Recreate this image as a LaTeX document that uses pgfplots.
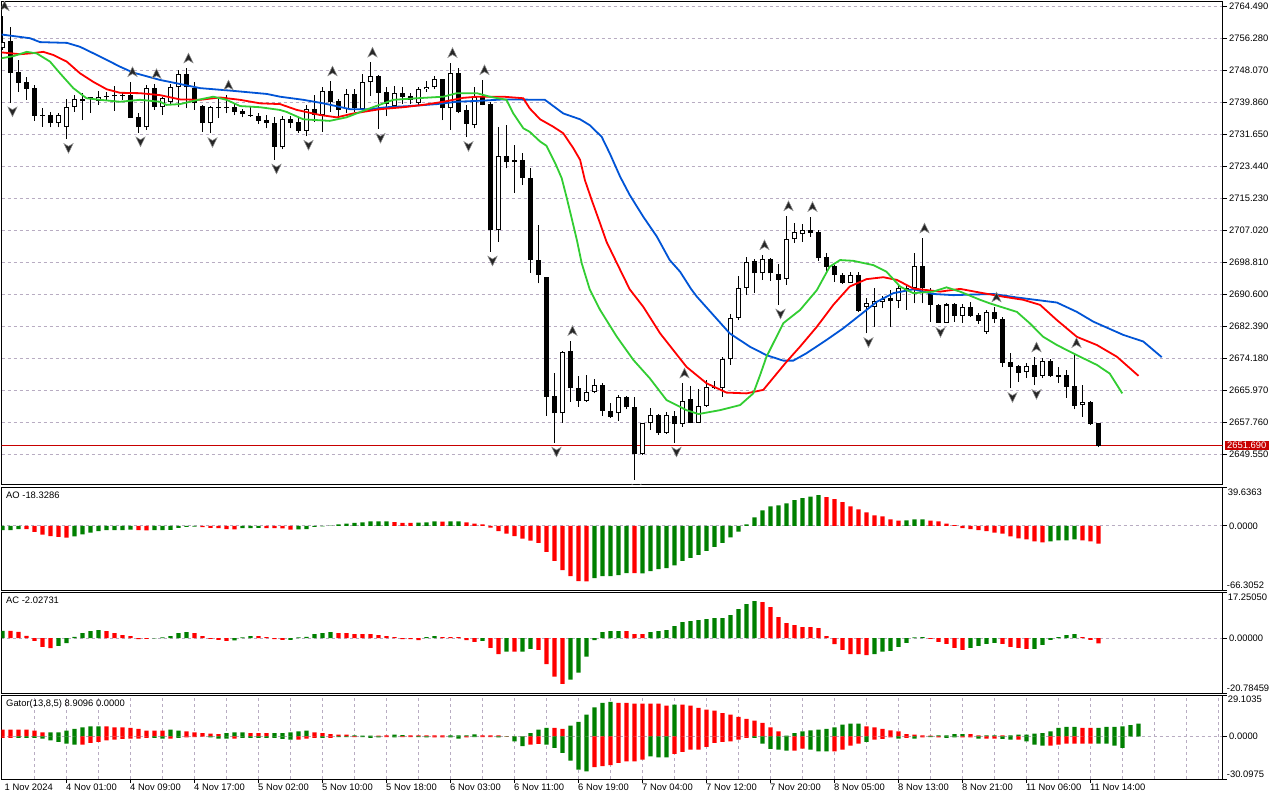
\documentclass[border=0pt]{standalone}
\usepackage{pgfplots}
\pgfplotsset{compat=1.18}
\usepackage{pgfplotstable}
\usepackage{fontspec}
\setmainfont{Liberation Sans}

\definecolor{mtblue}{RGB}{0,84,214}
\definecolor{mtred}{RGB}{255,0,0}
\definecolor{mtlime}{RGB}{50,205,50}
\definecolor{hgreen}{RGB}{0,128,0}
\definecolor{hred}{RGB}{255,0,0}
\definecolor{gridc}{RGB}{184,172,194}
\definecolor{pricered}{RGB}{200,0,0}

\pgfplotstableread{
i O H L C
0 2753.8 2761.9 2753.2 2755.3
1 2755.5 2759.0 2739.7 2747.4
2 2747.6 2750.6 2742.5 2744.8
3 2745.0 2746.2 2740.4 2743.2
4 2743.4 2744.2 2735.0 2736.3
5 2736.6 2738.2 2733.5 2736.3
6 2736.5 2737.2 2733.3 2734.4
7 2734.4 2737.1 2733.3 2736.5
8 2733.5 2740.5 2730.3 2738.6
9 2738.5 2741.6 2737.3 2740.5
10 2740.6 2742.1 2735.2 2740.0
11 2741.0 2741.1 2737.1 2740.7
12 2740.1 2742.7 2739.1 2741.0
13 2741.4 2742.5 2740.4 2741.0
14 2741.7 2743.9 2737.6 2741.3
15 2741.7 2742.1 2740.4 2741.4
16 2741.6 2745.0 2735.7 2735.8
17 2736.1 2736.9 2732.0 2733.3
18 2733.3 2744.2 2732.7 2743.4
19 2743.4 2744.5 2737.8 2738.6
20 2738.6 2741.2 2736.5 2740.8
21 2739.8 2744.4 2739.2 2743.6
22 2743.6 2748.0 2738.6 2747.0
23 2747.0 2748.5 2738.2 2743.6
24 2743.4 2745.0 2737.8 2739.5
25 2738.8 2739.1 2732.2 2734.4
26 2734.4 2738.7 2731.8 2738.6
27 2738.6 2741.1 2735.7 2738.2
28 2738.6 2741.6 2736.9 2738.2
29 2738.6 2739.5 2736.5 2737.3
30 2737.5 2738.0 2735.9 2736.7
31 2736.6 2738.6 2736.1 2736.3
32 2736.3 2736.9 2734.2 2735.0
33 2735.2 2736.5 2733.1 2734.4
34 2734.5 2736.1 2725.0 2728.4
35 2728.2 2736.2 2727.7 2735.4
36 2735.4 2736.2 2733.1 2734.5
37 2734.8 2735.7 2732.0 2732.5
38 2732.5 2739.1 2731.1 2738.0
39 2738.0 2741.6 2734.8 2736.5
40 2736.5 2743.8 2732.2 2742.7
41 2742.7 2745.2 2737.3 2739.9
42 2740.1 2740.5 2735.9 2737.8
43 2738.0 2743.1 2736.9 2741.8
44 2741.8 2743.1 2737.3 2738.2
45 2738.0 2747.0 2737.8 2744.9
46 2744.9 2750.0 2741.5 2746.5
47 2746.5 2746.8 2732.9 2742.2
48 2742.4 2743.6 2736.2 2739.3
49 2738.8 2743.9 2738.2 2742.1
50 2742.1 2743.6 2739.3 2741.2
51 2741.4 2742.2 2739.3 2740.4
52 2739.7 2743.8 2739.1 2743.1
53 2743.1 2745.3 2742.5 2743.8
54 2743.6 2746.5 2743.1 2745.7
55 2745.7 2745.8 2735.2 2738.2
56 2738.2 2749.9 2732.7 2747.2
57 2747.2 2748.5 2736.9 2737.3
58 2737.8 2739.1 2730.8 2734.2
59 2733.9 2743.8 2733.1 2741.2
60 2741.2 2745.5 2739.0 2739.1
61 2739.3 2739.9 2701.4 2707.0
62 2707.0 2733.5 2704.0 2726.0
63 2726.0 2733.9 2722.8 2724.5
64 2725.0 2728.8 2716.6 2724.5
65 2725.0 2726.8 2718.5 2720.3
66 2720.3 2722.8 2696.1 2699.3
67 2699.3 2708.3 2693.3 2695.5
68 2694.9 2695.0 2659.3 2664.2
69 2664.4 2670.4 2652.4 2660.0
70 2660.0 2676.0 2657.6 2675.8
71 2676.0 2678.6 2663.0 2666.4
72 2666.4 2669.6 2661.7 2663.2
73 2663.2 2669.8 2663.0 2665.5
74 2665.5 2668.7 2665.1 2667.2
75 2667.2 2667.8 2659.3 2660.7
76 2660.7 2662.6 2658.9 2659.0
77 2660.0 2664.7 2658.1 2664.1
78 2664.2 2664.4 2661.0 2661.5
79 2661.5 2664.1 2642.9 2649.5
80 2649.5 2657.6 2649.4 2657.4
81 2657.4 2661.3 2655.7 2659.5
82 2659.5 2659.8 2654.4 2654.9
83 2654.9 2660.4 2654.8 2659.5
84 2659.3 2660.7 2652.4 2657.2
85 2657.2 2667.7 2656.6 2663.2
86 2663.6 2667.0 2657.4 2657.6
87 2657.6 2666.1 2657.5 2661.9
88 2661.9 2668.5 2661.7 2666.7
89 2666.4 2668.4 2666.1 2666.7
90 2666.4 2674.4 2664.2 2673.8
91 2673.8 2685.4 2672.4 2684.5
92 2684.5 2695.2 2683.9 2692.1
93 2692.1 2700.2 2690.3 2698.9
94 2699.1 2699.5 2690.8 2695.9
95 2695.9 2700.6 2694.2 2699.6
96 2699.6 2699.8 2694.0 2695.9
97 2695.7 2698.3 2687.8 2694.2
98 2694.4 2710.6 2692.9 2704.6
99 2704.6 2708.7 2703.7 2706.4
100 2706.0 2708.5 2704.0 2706.9
101 2707.0 2710.4 2705.3 2706.3
102 2706.4 2707.0 2699.1 2699.7
103 2700.0 2701.2 2696.3 2697.6
104 2697.8 2698.0 2693.7 2695.5
105 2695.5 2696.1 2693.2 2693.5
106 2693.5 2696.3 2693.3 2695.5
107 2695.5 2696.2 2686.0 2686.3
108 2687.3 2689.6 2680.5 2688.3
109 2687.3 2692.1 2682.2 2688.8
110 2688.5 2690.1 2686.9 2689.2
111 2689.6 2691.6 2682.0 2688.8
112 2688.8 2692.9 2686.9 2692.1
113 2691.4 2692.9 2686.5 2692.1
114 2692.1 2701.0 2688.2 2697.8
115 2697.8 2704.9 2688.2 2692.1
116 2690.8 2692.1 2683.5 2687.8
117 2687.8 2688.0 2683.1 2683.2
118 2683.2 2688.2 2683.1 2687.9
119 2687.9 2688.4 2683.5 2684.9
120 2685.0 2687.9 2683.2 2687.2
121 2687.2 2688.6 2684.8 2685.0
122 2685.2 2685.8 2682.9 2683.7
123 2680.9 2686.5 2680.3 2685.9
124 2685.9 2687.2 2683.1 2684.1
125 2684.1 2684.8 2671.9 2673.0
126 2673.1 2675.5 2666.4 2671.9
127 2672.1 2672.4 2668.1 2670.4
128 2670.5 2672.8 2669.0 2672.2
129 2672.4 2674.4 2667.2 2669.4
130 2669.6 2674.1 2669.0 2673.5
131 2673.5 2673.8 2669.4 2669.6
132 2669.8 2671.8 2667.7 2669.4
133 2669.8 2671.1 2664.0 2666.8
134 2667.0 2675.5 2661.0 2661.9
135 2662.1 2667.2 2659.1 2662.8
136 2662.8 2663.2 2657.0 2657.2
137 2657.6 2657.6 2651.3 2651.69
}\candles

\pgfplotstableread{
i p
-0.31 2757.2
3.44 2756.2
4.69 2755.2
8.06 2755.0
9.69 2754.0
12.19 2751.5
14.69 2748.9
16.31 2747.4
19.69 2745.5
24.69 2743.4
28.81 2742.7
33.06 2741.9
34.69 2741.2
37.6 2740.4
40.1 2739.5
43.44 2738.0
45.94 2738.0
48.03 2738.5
50.94 2738.8
54.28 2739.3
56.78 2739.9
60.1 2740.2
62.6 2740.5
67.8 2740.4
70.1 2736.9
72.2 2735.4
73.4 2733.9
74.9 2730.9
75.9 2726.7
77.2 2720.7
78.4 2716.0
80.1 2710.4
81.8 2705.3
83.4 2699.3
84.7 2696.3
86.1 2691.8
86.8 2689.9
88.85 2685.2
90.9 2680.5
93.4 2677.1
95.5 2674.9
97.6 2673.5
98.85 2673.5
100.5 2675.4
103.0 2678.8
105.1 2681.8
107.2 2685.2
109.3 2688.6
111.35 2690.8
113.85 2691.8
116.35 2690.6
118.85 2690.3
123.85 2690.6
126.8 2689.7
131.8 2688.4
134.3 2686.0
136.35 2683.5
140.1 2680.1
142.6 2678.4
144.9 2674.4
}\jaw

\pgfplotstableread{
i p
-0.31 2752.6
2.19 2752.1
3.44 2752.3
5.1 2752.7
6.35 2751.9
8.03 2750.2
9.69 2747.2
11.35 2745.0
13.03 2743.1
14.69 2742.2
17.19 2742.1
19.69 2741.6
22.19 2740.5
24.69 2740.4
27.19 2741.0
29.69 2740.4
32.19 2739.5
34.69 2739.3
36.8 2737.8
39.7 2736.5
41.8 2735.9
43.85 2736.9
47.2 2738.0
50.1 2738.5
52.6 2739.1
55.1 2739.9
57.6 2740.9
59.3 2741.2
62.6 2741.2
65.1 2740.8
65.9 2738.2
67.2 2735.4
68.85 2733.5
70.1 2731.8
71.35 2728.0
72.2 2725.0
72.8 2719.8
73.65 2714.7
74.7 2708.7
75.5 2704.0
76.8 2698.5
78.4 2691.8
80.1 2687.3
82.2 2680.5
83.85 2676.2
85.5 2671.9
88.0 2667.7
90.5 2665.3
93.0 2665.1
95.1 2666.0
98.0 2673.2
99.7 2677.1
101.8 2682.2
103.85 2687.8
105.9 2692.5
108.0 2694.4
110.1 2694.9
111.8 2694.2
113.85 2692.0
115.5 2691.6
117.2 2691.2
119.7 2691.9
122.6 2690.8
125.1 2689.9
127.6 2689.1
129.7 2687.8
131.8 2683.9
134.3 2679.6
136.8 2677.5
139.3 2674.5
142.0 2669.6
}\teeth

\pgfplotstableread{
i p
-0.31 2751.0
1.35 2751.6
3.03 2752.7
4.28 2752.3
5.94 2750.2
7.19 2747.2
8.85 2743.4
10.5 2740.8
12.19 2740.4
14.69 2739.9
17.19 2740.4
19.69 2739.9
20.5 2739.1
22.19 2739.3
24.69 2740.5
26.35 2741.2
28.0 2740.4
29.69 2738.8
32.19 2738.5
34.69 2737.8
35.5 2737.3
37.6 2735.4
40.9 2735.0
43.0 2735.9
45.9 2738.2
48.85 2740.4
51.8 2740.8
55.1 2741.2
56.8 2742.1
59.3 2742.1
60.9 2741.2
63.0 2740.4
63.85 2736.9
65.1 2733.1
65.9 2732.2
67.2 2729.7
68.0 2728.6
69.1 2724.1
69.9 2720.3
70.5 2715.5
71.15 2710.0
71.8 2704.4
72.4 2698.5
73.4 2691.8
74.7 2686.5
76.8 2679.6
78.85 2673.7
80.9 2669.0
83.0 2663.4
85.5 2660.8
87.0 2659.8
89.7 2660.8
92.2 2662.1
93.85 2665.1
94.7 2669.8
95.5 2674.5
97.6 2683.1
99.7 2686.5
101.8 2691.6
103.4 2697.6
104.7 2699.3
106.35 2699.1
108.85 2698.0
110.5 2696.3
112.2 2692.5
113.85 2690.8
116.35 2691.2
118.0 2692.3
119.7 2691.2
122.2 2689.1
123.4 2688.2
126.8 2686.0
128.4 2683.1
130.1 2679.6
131.8 2677.5
134.3 2674.9
136.8 2672.4
138.4 2670.2
139.97 2665.1
}\lips

\pgfplotstableread{
i H
0 2761.9
16 2745.0
19 2744.5
23 2748.5
28 2741.6
41 2745.2
46 2750.0
56 2749.9
60 2745.5
71 2678.6
85 2667.7
95 2700.6
98 2710.6
101 2710.4
115 2704.9
124 2687.2
129 2674.4
134 2675.5
}\fup

\pgfplotstableread{
i L
1 2739.7
8 2730.3
17 2732.0
26 2731.8
34 2725.0
38 2731.1
47 2732.9
58 2730.8
61 2701.4
69 2652.4
79 2642.9
84 2652.4
97 2687.8
108 2680.5
117 2683.1
126 2666.4
129 2667.2
}\fdn

\pgfplotstableread{
i v g
0 -4.5 1
1 -4.5 1
2 -3.5 1
3 -3.5 0
4 -6.3 0
5 -9.1 0
6 -10.5 0
7 -11.5 0
8 -12.2 0
9 -10.8 1
10 -8.7 1
11 -7.0 1
12 -5.5 1
13 -4.5 1
14 -4.4 1
15 -4.3 1
16 -3.9 1
17 -4.5 0
18 -4.6 0
19 -4.4 1
20 -4.3 1
21 -4.2 1
22 -2.1 1
23 -1.0 1
24 -0.8 1
25 -1.4 0
26 -2.1 0
27 -2.4 0
28 -3.5 0
29 -3.6 0
30 -2.4 1
31 -2.3 1
32 -2.2 1
33 -2.3 0
34 -2.4 0
35 -2.6 0
36 -3.9 0
37 -3.6 1
38 -3.5 1
39 -1.0 1
40 -0.5 1
41 0.2 1
42 1.4 1
43 2.4 1
44 3.1 1
45 3.5 1
46 4.5 1
47 4.6 1
48 4.7 1
49 3.9 0
50 3.1 0
51 3.0 0
52 3.2 1
53 3.5 1
54 4.5 1
55 4.4 0
56 4.5 1
57 4.6 1
58 3.5 0
59 2.4 0
60 1.4 0
61 -1.8 0
62 -5.5 0
63 -8.1 0
64 -10.5 0
65 -13.3 0
66 -15.4 0
67 -17.5 0
68 -26.9 0
69 -36.3 0
70 -45.7 0
71 -52.0 0
72 -57.2 0
73 -57.3 0
74 -54.1 1
75 -52.0 1
76 -51.9 1
77 -50.9 1
78 -48.8 1
79 -48.9 0
80 -49.2 1
81 -46.8 1
82 -44.7 1
83 -43.6 1
84 -40.8 1
85 -36.3 1
86 -33.2 1
87 -30.0 1
88 -25.8 1
89 -21.7 1
90 -17.5 1
91 -11.8 1
92 -6.0 1
93 1.4 1
94 8.7 1
95 16.0 1
96 20.2 1
97 21.2 1
98 23.3 1
99 26.5 1
100 28.6 1
101 30.3 1
102 31.7 1
103 29.6 0
104 27.5 0
105 24.4 0
106 20.2 0
107 17.0 0
108 13.9 0
109 10.8 0
110 9.7 0
111 6.6 0
112 5.5 0
113 5.6 1
114 6.6 1
115 6.7 1
116 5.5 0
117 4.5 0
118 2.4 0
119 0.7 0
120 -2.4 0
121 -3.5 0
122 -4.5 0
123 -5.5 0
124 -7.0 0
125 -8.1 0
126 -10.8 0
127 -12.9 0
128 -13.9 0
129 -16.0 0
130 -17.1 0
131 -16.0 1
132 -15.0 1
133 -14.9 1
134 -13.9 1
135 -15.0 0
136 -16.0 0
137 -18.3286 0
}\aodata

\pgfplotstableread{
i v g
0 2.76 1
1 2.76 0
2 2.38 0
3 0.87 0
4 -1.02 0
5 -3.29 0
6 -3.78 0
7 -2.91 1
8 -1.89 1
9 0.49 1
10 1.89 1
11 2.64 1
12 3.02 1
13 2.64 0
14 1.89 0
15 1.13 0
16 0.76 0
17 -0.38 0
18 -0.26 0
19 -0.11 1
20 0.26 1
21 0.76 1
22 1.89 1
23 2.27 1
24 1.89 0
25 0.76 0
26 -0.26 0
27 -0.64 0
28 -1.02 0
29 -0.87 1
30 0.26 1
31 0.76 1
32 0.76 0
33 0.38 0
34 -0.38 0
35 -0.64 0
36 -0.64 1
37 0.26 1
38 0.49 1
39 1.51 1
40 1.89 1
41 2.27 1
42 1.89 0
43 1.89 0
44 1.51 0
45 1.51 0
46 1.51 0
47 1.13 0
48 0.76 0
49 0.38 0
50 -0.38 0
51 -0.38 0
52 -0.76 0
53 0.38 1
54 0.76 1
55 0.38 0
56 0.38 0
57 0.38 0
58 -0.76 0
59 -1.40 0
60 -1.02 1
61 -3.66 0
62 -6.04 0
63 -5.17 1
64 -5.17 0
65 -5.17 1
66 -4.04 1
67 -4.42 0
68 -9.82 0
69 -14.62 0
70 -17.37 0
71 -15.75 1
72 -13.11 1
73 -7.06 1
74 -0.76 1
75 2.27 1
76 2.64 1
77 2.64 1
78 2.64 0
79 1.51 0
80 1.51 0
81 2.27 1
82 2.64 1
83 3.02 1
84 4.53 1
85 6.04 1
86 6.42 1
87 6.80 1
88 7.18 1
89 7.55 1
90 7.55 1
91 8.69 1
92 10.95 1
93 12.84 1
94 13.97 1
95 13.60 0
96 11.71 0
97 7.93 0
98 5.67 0
99 4.91 0
100 4.15 0
101 4.15 0
102 3.78 0
103 0.76 0
104 -2.27 0
105 -4.42 0
106 -6.04 0
107 -6.04 0
108 -6.42 0
109 -6.04 1
110 -5.17 1
111 -4.80 1
112 -3.29 1
113 -1.78 1
114 0.26 1
115 0.38 1
116 -0.26 0
117 -1.40 0
118 -2.15 0
119 -3.66 0
120 -4.42 0
121 -3.66 1
122 -2.91 1
123 -2.15 1
124 -1.78 1
125 -2.15 0
126 -3.29 0
127 -3.66 0
128 -4.04 0
129 -4.04 1
130 -2.53 1
131 -0.64 1
132 0.38 1
133 1.13 1
134 1.51 1
135 0.38 0
136 -0.64 0
137 -2.02731 0
}\acdata

\pgfplotstableread{
i up uc dn dc
0 4.7 0 -1.2 0
1 4.7 0 -1.2 0
2 4.7 0 -1.2 1
3 4.7 0 -1.2 1
4 4.0 0 -1.2 1
5 2.8 0 -1.6 1
6 2.8 1 -2.8 1
7 2.8 1 -4.0 1
8 4.0 1 -5.2 1
9 5.2 1 -5.9 1
10 6.3 1 -5.9 0
11 7.0 1 -4.7 0
12 7.0 1 -4.0 0
13 7.0 0 -2.8 0
14 6.3 0 -2.3 0
15 6.3 0 -1.9 0
16 5.9 0 -1.6 0
17 5.2 0 -1.6 0
18 4.0 0 -1.2 0
19 4.0 0 -1.2 1
20 4.0 0 -1.6 1
21 4.7 1 -1.6 0
22 4.0 1 -1.2 1
23 3.5 0 -0.7 0
24 2.8 0 -0.5 0
25 2.3 0 -0.2 0
26 1.9 0 -0.7 1
27 1.6 0 -1.6 1
28 2.3 1 -1.6 1
29 2.8 1 -1.6 0
30 2.8 1 -1.2 1
31 2.3 0 -1.2 1
32 2.3 0 -1.2 1
33 2.3 0 -1.2 1
34 2.3 1 -1.2 1
35 2.3 1 -1.9 1
36 2.8 1 -2.3 1
37 3.5 1 -2.3 0
38 4.0 1 -1.6 0
39 2.8 0 -1.2 0
40 2.3 0 -1.2 1
41 1.6 0 -1.2 0
42 1.2 0 -0.5 1
43 1.2 0 -0.5 1
44 0.7 1 -0.5 0
45 0.5 1 -0.5 1
46 0.5 1 -1.2 1
47 0.5 0 -0.7 1
48 0.7 0 -0.5 0
49 1.2 1 -0.7 1
50 0.9 1 -0.5 0
51 0.7 0 -0.5 0
52 0.7 0 -0.5 1
53 0.7 0 -0.7 1
54 0.7 0 -0.7 0
55 0.7 0 -0.7 0
56 0.7 1 -0.7 1
57 0.7 1 -1.6 1
58 0.7 1 -0.7 0
59 1.4 1 -0.5 1
60 0.7 0 -0.5 0
61 0.7 0 -0.5 0
62 0.7 0 -0.7 1
63 0.2 0 -0.2 1
64 0.0 0 -3.5 1
65 0.0 0 -7.0 1
66 2.3 1 -5.9 0
67 4.7 1 -5.4 0
68 5.9 1 -5.9 1
69 5.9 0 -8.2 1
70 5.2 0 -11.7 1
71 7.5 1 -17.1 1
72 10.1 1 -23.5 1
73 15.3 1 -24.7 1
74 20.4 1 -21.8 0
75 23.5 1 -21.1 0
76 24.2 1 -20.4 0
77 23.5 0 -18.8 0
78 23.5 0 -17.6 0
79 23.0 0 -17.6 0
80 23.0 0 -16.4 0
81 23.0 0 -14.1 1
82 23.0 0 -14.8 1
83 21.6 0 -14.8 1
84 22.3 1 -12.4 0
85 22.3 0 -11.0 0
86 21.6 0 -9.4 0
87 20.0 0 -9.4 0
88 18.8 0 -7.5 0
89 18.1 0 -4.7 0
90 16.4 0 -4.0 0
91 15.3 0 -3.5 0
92 13.6 0 -2.3 0
93 12.2 0 -1.2 0
94 11.0 0 -1.2 1
95 9.4 0 -5.2 1
96 6.3 0 -8.9 1
97 3.5 0 -9.4 1
98 0.5 1 -10.1 1
99 2.3 1 -10.1 0
100 3.5 1 -8.7 0
101 4.2 1 -9.4 1
102 4.7 1 -10.6 1
103 5.2 1 -10.6 1
104 6.3 1 -10.6 0
105 8.2 1 -9.4 0
106 8.9 1 -6.6 0
107 8.9 1 -5.2 0
108 7.0 0 -4.0 1
109 6.3 0 -2.3 0
110 5.2 0 -1.9 0
111 4.2 0 -0.7 0
112 3.5 0 -1.6 1
113 1.6 0 -1.2 0
114 1.2 0 -1.6 1
115 0.7 0 -0.7 0
116 0.5 0 -0.5 1
117 0.7 1 -0.7 0
118 0.7 1 -1.2 1
119 1.6 1 -0.7 1
120 1.6 1 -0.7 0
121 1.6 0 -0.7 0
122 0.7 0 -1.6 1
123 0.7 1 -1.6 0
124 0.7 1 -1.6 0
125 0.7 0 -1.9 1
126 0.7 1 -2.3 1
127 1.2 1 -2.3 0
128 1.2 1 -3.5 1
129 1.9 1 -5.9 1
130 2.3 1 -6.6 1
131 3.5 1 -6.6 0
132 5.9 1 -5.9 0
133 6.6 1 -5.2 0
134 6.6 1 -5.2 0
135 5.9 0 -5.2 0
136 5.9 0 -5.2 0
137 5.9 1 -5.2 1
138 6.6 1 -5.2 1
139 6.6 1 -6.6 1
140 7.0 1 -8.2 1
141 7.8 1 0 1
142 8.9096 1 0 1
}\gator

\pgfdeclareplotmark{fractup}{%
  \pgfpathmoveto{\pgfqpoint{0pt}{5pt}}%
  \pgfpathlineto{\pgfqpoint{4.6pt}{-4.6pt}}%
  \pgfpathlineto{\pgfqpoint{0pt}{-1.8pt}}%
  \pgfpathlineto{\pgfqpoint{-4.6pt}{-4.6pt}}%
  \pgfpathclose\pgfusepathqfillstroke}
\pgfdeclareplotmark{fractdn}{%
  \pgfpathmoveto{\pgfqpoint{0pt}{-5pt}}%
  \pgfpathlineto{\pgfqpoint{4.6pt}{4.6pt}}%
  \pgfpathlineto{\pgfqpoint{0pt}{1.8pt}}%
  \pgfpathlineto{\pgfqpoint{-4.6pt}{4.6pt}}%
  \pgfpathclose\pgfusepathqfillstroke}

\newcommand{\lblfont}{\fontsize{9.4}{10}\selectfont}

\pgfplotsset{
  mt/.style={
    scale only axis, width=1221.2pt, xmin=-0.125, xmax=152.525,
    axis line style={line width=0.8pt},
    xtick=\empty,
    minor xtick={4,8,...,152}, minor tick length=0pt, xminorgrids,
    minor grid style={gridc, dash pattern=on 3pt off 3pt, line width=0.7pt},
    major grid style={gridc, dash pattern=on 3pt off 3pt, line width=0.7pt},
    ytick pos=right, yticklabel pos=right, tick align=outside,
    major tick length=4pt,
    tick style={black, line width=0.7pt},
    tick label style={font=\lblfont},
    yticklabel style={anchor=west, xshift=-1pt},
    /pgf/number format/assume math mode=true,
    clip marker paths=true,
  },
  hbar/.style={ybar, bar width=4.2pt, bar shift=0pt, draw=none},
}

\begin{document}
\begin{tikzpicture}
\path[use as bounding box] (0pt,0pt) rectangle (1280pt,800pt);
\fill[white] (0pt,0pt) rectangle (1280pt,800pt);

% ---------- main price panel ----------
\begin{axis}[mt, at={(1.5pt,798.5pt)}, anchor=north west, height=483pt,
  ymin=2641.73, ymax=2765.62,
  ytick={2649.55,2657.76,2665.97,2674.18,2682.39,2690.60,2698.81,2707.02,2715.23,2723.44,2731.65,2739.86,2748.07,2756.28,2764.49},
  ymajorgrids,
  yticklabel style={/pgf/number format/.cd, fixed, fixed zerofill, precision=3, 1000 sep={}},
]
\addplot[pricered, line width=0.8pt] coordinates {(-1,2651.69) (153,2651.69)};
% wicks
\addplot[black, line width=1pt, quiver={u=0, v=\thisrow{H}-\thisrow{L}}]
  table[x=i, y=L] {\candles};
% bodies
\addplot[black, line width=4.6pt, quiver={u=0, v={abs(\thisrow{C}-\thisrow{O})}}]
  table[x=i, y expr={min(\thisrow{O},\thisrow{C})}] {\candles};
\addplot[white, line width=2.6pt, quiver={u=0, v=\thisrow{C}-\thisrow{O}-0.52},
  restrict expr to domain={\thisrow{C}-\thisrow{O}}{0.6:1000}]
  table[x=i, y expr=\thisrow{O}+0.26] {\candles};
% alligator
\addplot[mtblue, line width=1.8pt] table[x=i, y=p] {\jaw};
\addplot[mtred, line width=1.8pt] table[x=i, y=p] {\teeth};
\addplot[mtlime, line width=1.8pt] table[x=i, y=p] {\lips};
% fractals
\addplot[only marks, mark=fractup, mark options={fill=black!85, draw=black!45, line width=0.5pt, yshift=10pt, xshift=2pt}]
  table[x=i, y=H] {\fup};
\addplot[only marks, mark=fractdn, mark options={fill=black!85, draw=black!45, line width=0.5pt, yshift=-9pt, xshift=2pt}]
  table[x=i, y=L] {\fdn};
\coordinate (cp) at (axis cs:152.525,2651.69);
\end{axis}
\node[fill=pricered, text=white, anchor=west, inner xsep=2.5pt, inner ysep=1.3pt, font=\lblfont] at ([xshift=1.8pt]cp) {2651.690};

% ---------- AO ----------
\begin{axis}[mt, hbar, at={(1.5pt,312.5pt)}, anchor=north west, height=102.5pt,
  ymin=-66.3052, ymax=39.6363,
  ytick={0}, yticklabels={0.0000}, ymajorgrids,
  extra y ticks={-66.3052,39.6363}, extra y tick labels={}, extra y tick style={grid=none},
]
\addplot[hbar, fill=hgreen, restrict expr to domain={\thisrow{g}}{0.5:1.5}] table[x=i, y=v] {\aodata};
\addplot[hbar, fill=hred, restrict expr to domain={\thisrow{g}}{-0.5:0.5}] table[x=i, y=v] {\aodata};
\coordinate (aoTL) at (rel axis cs:0,1);
\coordinate (aoTR) at (rel axis cs:1,1);
\coordinate (aoBR) at (rel axis cs:1,0);
\end{axis}
\node[anchor=north west, inner sep=0pt, font=\lblfont] at ([xshift=4.5pt,yshift=-4pt]aoTL) {AO -18.3286};
\node[anchor=north west, inner sep=0pt, font=\lblfont] at ([xshift=5pt,yshift=-1pt]aoTR) {39.6363};
\node[anchor=south west, inner sep=0pt, font=\lblfont] at ([xshift=4pt,yshift=1.5pt]aoBR) {-66.3052};

% ---------- AC ----------
\begin{axis}[mt, hbar, at={(1.5pt,207.5pt)}, anchor=north west, height=100.5pt,
  ymin=-20.78459, ymax=17.2505,
  ytick={0}, yticklabels={0.00000}, ymajorgrids,
  extra y ticks={-20.78459,17.2505}, extra y tick labels={}, extra y tick style={grid=none},
]
\addplot[hbar, fill=hgreen, restrict expr to domain={\thisrow{g}}{0.5:1.5}] table[x=i, y=v] {\acdata};
\addplot[hbar, fill=hred, restrict expr to domain={\thisrow{g}}{-0.5:0.5}] table[x=i, y=v] {\acdata};
\coordinate (acTL) at (rel axis cs:0,1);
\coordinate (acTR) at (rel axis cs:1,1);
\coordinate (acBR) at (rel axis cs:1,0);
\end{axis}
\node[anchor=north west, inner sep=0pt, font=\lblfont] at ([xshift=4.5pt,yshift=-4pt]acTL) {AC -2.02731};
\node[anchor=north west, inner sep=0pt, font=\lblfont] at ([xshift=5pt,yshift=-1pt]acTR) {17.25050};
\node[anchor=south west, inner sep=0pt, font=\lblfont] at ([xshift=4pt,yshift=1.5pt]acBR) {-20.78459};

% ---------- Gator ----------
\begin{axis}[mt, hbar, at={(1.5pt,105pt)}, anchor=north west, height=84pt,
  ymin=-30.0975, ymax=29.1035,
  ytick={0}, yticklabels={0.0000}, ymajorgrids,
  extra y ticks={-30.0975,29.1035}, extra y tick labels={}, extra y tick style={grid=none},
  xtick={8,16,...,136}, xtick pos=bottom,
  xticklabels={4 Nov 01:00,4 Nov 09:00,4 Nov 17:00,5 Nov 02:00,5 Nov 10:00,5 Nov 18:00,6 Nov 03:00,6 Nov 11:00,6 Nov 19:00,7 Nov 04:00,7 Nov 12:00,7 Nov 20:00,8 Nov 05:00,8 Nov 13:00,8 Nov 21:00,11 Nov 06:00,11 Nov 14:00},
  xticklabel style={anchor=north west, inner sep=0pt, xshift=-0.5pt, yshift=-1pt},
  x tick style={black, line width=0.8pt},
]
\addplot[hbar, fill=hgreen, restrict expr to domain={\thisrow{uc}}{0.5:1.5}] table[x=i, y=up] {\gator};
\addplot[hbar, fill=hred, restrict expr to domain={\thisrow{uc}}{-0.5:0.5}] table[x=i, y=up] {\gator};
\addplot[hbar, fill=hgreen, restrict expr to domain={\thisrow{dc}}{0.5:1.5}] table[x=i, y=dn] {\gator};
\addplot[hbar, fill=hred, restrict expr to domain={\thisrow{dc}}{-0.5:0.5}] table[x=i, y=dn] {\gator};
\coordinate (gaTL) at (rel axis cs:0,1);
\coordinate (gaTR) at (rel axis cs:1,1);
\coordinate (gaBR) at (rel axis cs:1,0);
\coordinate (gaBL) at (rel axis cs:0,0);
\end{axis}
\node[anchor=north west, inner sep=0pt, font=\lblfont] at ([xshift=4.5pt,yshift=-4pt]gaTL) {Gator(13,8,5) 8.9096 0.0000};
\node[anchor=north west, inner sep=0pt, font=\lblfont] at ([xshift=5pt,yshift=-1pt]gaTR) {29.1035};
\node[anchor=south west, inner sep=0pt, font=\lblfont] at ([xshift=4pt,yshift=1.5pt]gaBR) {-30.0975};
\node[anchor=north west, inner sep=0pt, font=\lblfont] at ([xshift=3pt,yshift=-5pt]gaBL) {1 Nov 2024};
\end{tikzpicture}
\end{document}
